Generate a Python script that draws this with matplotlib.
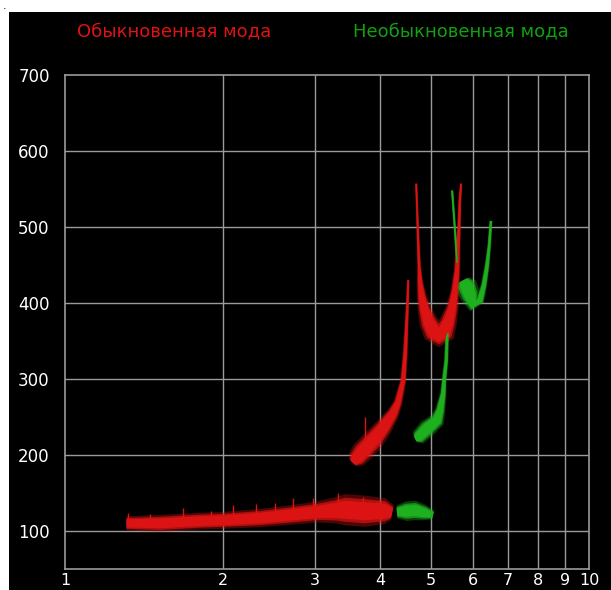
import numpy as np
import matplotlib
matplotlib.use("Agg")
import matplotlib.pyplot as plt
from matplotlib.patches import Rectangle, Polygon

# ---- ionogram traces: frequency (MHz) vs virtual height (km) ----
# Ordinary mode
o_e_freq = [1.31, 1.52, 1.81, 2.00, 2.36, 2.69, 3.03, 3.28, 3.42, 3.74, 4.08, 4.21]
o_e_height = [110, 110, 113, 114, 117, 121, 125, 127, 128, 126, 126, 124]

o_f1_freq = [3.54, 3.60, 3.69, 3.87, 4.05, 4.23, 4.32, 4.42, 4.46, 4.49, 4.51, 4.52]
o_f1_height = [190, 195, 204, 219, 236, 255, 269, 298, 334, 377, 410, 430]

o_f2_freq = [4.68, 4.70, 4.72, 4.74, 4.76, 4.80, 4.86, 4.95, 5.06, 5.17,
             5.29, 5.38, 5.48, 5.55, 5.60, 5.62, 5.65, 5.67, 5.70]
o_f2_height = [557, 521, 482, 449, 427, 407, 390, 374, 362, 358,
               362, 374, 393, 416, 443, 469, 502, 535, 557]

# isolated vertical streaks of the ordinary echo: frequency, base, top
o_spike_freq = [1.32, 1.45, 1.68, 1.90, 2.09, 2.31, 2.52, 2.72, 2.97, 3.32, 3.71, 3.94, 3.74]
o_spike_base = [110, 110, 112, 113, 115, 117, 119, 121, 124, 127, 127, 126, 205]
o_spike_top = [124, 122, 130, 126, 134, 136, 137, 144, 143, 150, 145, 140, 250]

# Extraordinary mode
x_e_freq = [4.30, 4.48, 4.66, 4.85, 5.04]
x_e_height = [125, 126, 127, 124, 121]

x_f1_freq = [4.66, 4.72, 4.91, 5.13, 5.20, 5.27, 5.29, 5.34, 5.36, 5.38]
x_f1_height = [221, 223, 235, 246, 259, 281, 298, 324, 355, 360]

x_f2_cusp_freq = [5.48, 5.55, 5.60]
x_f2_cusp_height = [548, 495, 453]

x_f2_freq = [5.76, 5.82, 5.93, 6.03, 6.19, 6.30, 6.39, 6.45, 6.50]
x_f2_height = [430, 424, 410, 398, 403, 423, 449, 475, 508]

x_ticks = [1, 2, 3, 4, 5, 6, 7, 8, 9, 10]
y_ticks = [100, 200, 300, 400, 500, 600, 700]

o_title = "Обыкновенная мода"
x_title = "Необыкновенная мода"

# ---- styling ----
RED = "#dc1313"
GREEN = "#1fb01f"
GRID = "#9a9a9a"

# echo spread (pixels) at each vertex of the traces
o_e_w = [11, 13, 13, 13, 14, 15, 16, 20, 24, 24, 20, 12]
o_f1_w = [8, 15, 17, 17, 14, 10, 7, 5, 4, 3, 2.5, 2]
o_f2_w = [2, 2, 2.5, 3, 5, 8, 11, 15, 18, 19, 18, 14, 10, 7, 5, 4, 3, 2.5, 2]
x_e_w = [10, 15, 15, 12, 7]
x_f1_w = [6, 12, 14, 12, 8, 5, 4, 3.5, 3, 2.5]
x_f2_cusp_w = [2, 2, 2]
x_f2_w = [10, 17, 16, 12, 7, 5, 4, 3, 2.5]


def ribbon(ax, freq, height, widths, color, scale=1.0, alpha=1.0, z=4):
    """Fill a band of varying pixel width around a trace."""
    disp = ax.transData.transform(np.column_stack([freq, height]))
    d = np.gradient(disp, axis=0)
    d /= np.linalg.norm(d, axis=1, keepdims=True)
    nrm = np.column_stack([-d[:, 1], d[:, 0]])
    half = np.asarray(widths, dtype=float)[:, None] * scale / 2.0
    outline = np.vstack([disp + nrm * half, (disp - nrm * half)[::-1]])
    poly = ax.transData.inverted().transform(outline)
    ax.add_patch(Polygon(poly, closed=True, facecolor=color, edgecolor="none",
                         alpha=alpha, zorder=z))


def draw_trace(ax, freq, height, widths, color):
    # soft edge: faint wide band under a solid narrower one
    ribbon(ax, freq, height, widths, color, scale=1.3, alpha=0.35, z=3)
    ribbon(ax, freq, height, widths, color, scale=1.0, alpha=0.7, z=4)
    ribbon(ax, freq, height, widths, color, scale=0.75, alpha=1.0, z=5)


fig = plt.figure(figsize=(6.11, 5.90), dpi=100, facecolor="white")
fig.patches.append(Rectangle((9 / 611, 0), 1 - 9 / 611, 1 - 12 / 590,
                             transform=fig.transFigure, facecolor="black",
                             edgecolor="none", zorder=-10))
fig.text(3 / 611, 1 - 6 / 590, ".", color="black", fontsize=8,
         ha="left", va="center")

ax = fig.add_axes([65 / 611, 21 / 590, 524 / 611, 494 / 590])
ax.set_facecolor("black")
ax.set_xscale("log")
ax.set_xlim(1, 10)
ax.set_ylim(50, 700)

ax.set_xticks(x_ticks)
ax.set_xticklabels([str(t) for t in x_ticks])
ax.xaxis.set_minor_locator(matplotlib.ticker.NullLocator())
ax.set_yticks(y_ticks)
ax.set_yticklabels([str(t) for t in y_ticks])
ax.tick_params(axis="both", length=0, colors="white")
ax.tick_params(axis="y", pad=11, labelsize=12)
ax.tick_params(axis="x", pad=3, labelsize=11.5)

for t in x_ticks[1:-1]:
    ax.axvline(t, color=GRID, lw=1.0, zorder=1)
for t in y_ticks[:-1]:
    ax.axhline(t, color=GRID, lw=1.0, zorder=1)
for s in ax.spines.values():
    s.set_color(GRID)
    s.set_linewidth(1.2)

# ordinary echoes
ax.vlines(o_spike_freq, o_spike_base, o_spike_top, colors=RED, lw=1.0, zorder=4)
draw_trace(ax, o_e_freq, o_e_height, o_e_w, RED)
draw_trace(ax, o_f1_freq, o_f1_height, o_f1_w, RED)
draw_trace(ax, o_f2_freq, o_f2_height, o_f2_w, RED)

# extraordinary echoes
draw_trace(ax, x_e_freq, x_e_height, x_e_w, GREEN)
draw_trace(ax, x_f1_freq, x_f1_height, x_f1_w, GREEN)
draw_trace(ax, x_f2_cusp_freq, x_f2_cusp_height, x_f2_cusp_w, GREEN)
draw_trace(ax, x_f2_freq, x_f2_height, x_f2_w, GREEN)

fig.text(174 / 611, 1 - 31 / 590, o_title, color="#e01212", fontsize=13,
         ha="center", va="center")
fig.text(461 / 611, 1 - 31 / 590, x_title, color="#12a012", fontsize=13,
         ha="center", va="center")

fig.savefig("out.png", dpi=100, facecolor=fig.get_facecolor())
